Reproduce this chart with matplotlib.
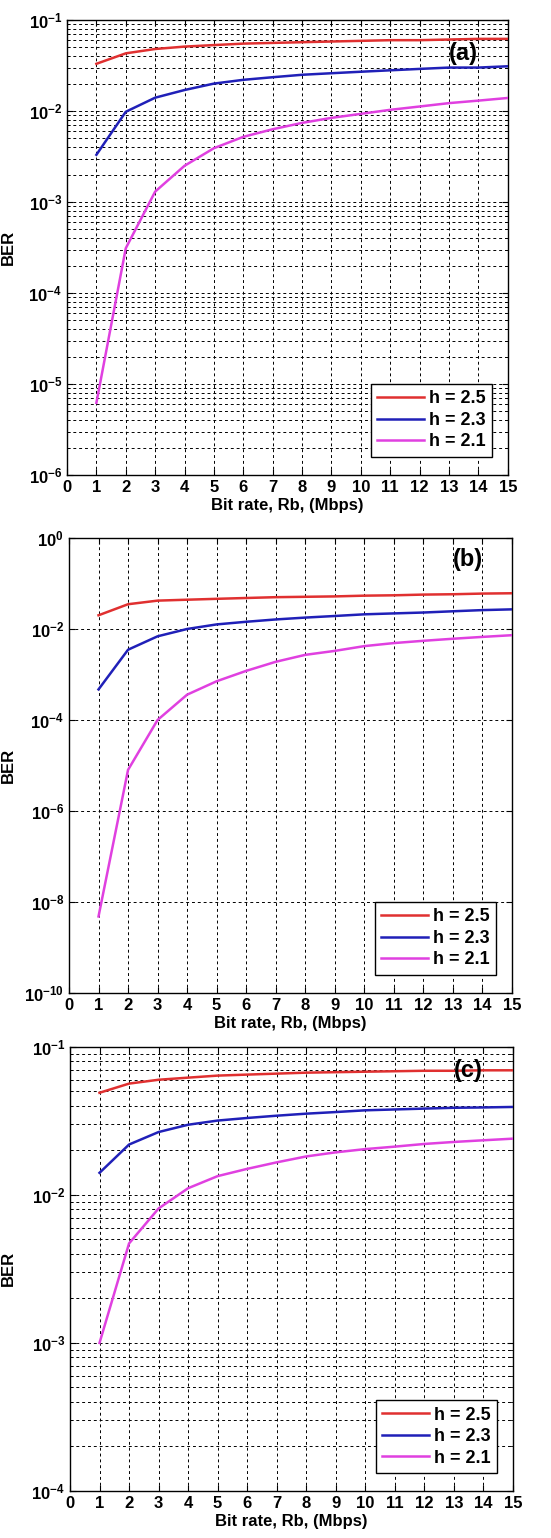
import matplotlib
matplotlib.use("Agg")
import matplotlib.pyplot as plt
from matplotlib.ticker import LogLocator, NullLocator, FixedLocator

plt.rcParams['font.family'] = ['Liberation Sans', 'DejaVu Sans']
plt.rcParams['font.weight'] = 'bold'
plt.rcParams['mathtext.fontset'] = 'custom'
plt.rcParams['mathtext.rm'] = 'Liberation Sans:bold'
plt.rcParams['mathtext.bf'] = 'Liberation Sans:bold'
plt.rcParams['mathtext.default'] = 'bf'

# data
rb = list(range(1, 16))
labels = ["h = 2.5", "h = 2.3", "h = 2.1"]
colors = ["#e03030", "#2020b8", "#e040e0"]

ber_a_25 = [0.033, 0.043, 0.048, 0.051, 0.053, 0.055, 0.056, 0.057, 0.058, 0.059, 0.060, 0.060, 0.061, 0.062, 0.062]
ber_a_23 = [0.0033, 0.0098, 0.014, 0.017, 0.020, 0.022, 0.0235, 0.025, 0.026, 0.027, 0.028, 0.029, 0.030, 0.030, 0.031]
ber_a_21 = [6.2e-6, 3.1e-4, 1.3e-3, 2.5e-3, 3.9e-3, 5.2e-3, 6.3e-3, 7.4e-3, 8.4e-3, 9.3e-3, 0.0103, 0.0112, 0.0122, 0.013, 0.0139]

ber_b_25 = [0.020, 0.035, 0.042, 0.044, 0.046, 0.048, 0.050, 0.051, 0.052, 0.054, 0.055, 0.057, 0.058, 0.060, 0.061]
ber_b_23 = [4.7e-4, 3.5e-3, 6.9e-3, 0.0100, 0.0126, 0.0144, 0.0162, 0.0178, 0.0193, 0.021, 0.022, 0.023, 0.0245, 0.026, 0.027]
ber_b_21 = [4.8e-9, 8e-6, 1e-4, 3.6e-4, 7.1e-4, 1.2e-3, 1.9e-3, 2.7e-3, 3.3e-3, 4.2e-3, 4.9e-3, 5.5e-3, 6.1e-3, 6.7e-3, 7.3e-3]

ber_c_25 = [0.049, 0.0565, 0.060, 0.062, 0.064, 0.065, 0.066, 0.067, 0.0675, 0.068, 0.0685, 0.069, 0.069, 0.0695, 0.0695]
ber_c_23 = [0.0141, 0.0219, 0.0266, 0.0298, 0.0318, 0.0331, 0.0343, 0.0354, 0.0363, 0.0373, 0.0378, 0.0383, 0.0388, 0.039, 0.0393]
ber_c_21 = [1e-3, 4.7e-3, 8.1e-3, 0.0111, 0.0134, 0.015, 0.0166, 0.0182, 0.0194, 0.0204, 0.0212, 0.0221, 0.0228, 0.0234, 0.024]

panels = [
    ("(a)", [ber_a_25, ber_a_23, ber_a_21], (1e-6, 1e-1), [0.1216, 0.6912, 0.800, 0.2958], 0.927, True),
    ("(b)", [ber_b_25, ber_b_23, ber_b_21], (1e-10, 1e0), [0.1252, 0.3544, 0.804, 0.2958], 0.953, False),
    ("(c)", [ber_c_25, ber_c_23, ber_c_21], (1e-4, 1e-1), [0.1270, 0.0306, 0.804, 0.2887], 0.948, True),
]

fig = plt.figure(figsize=(5.51, 15.38), dpi=100)

for tag, series, ylim, pos, ty, minor in panels:
    ax = fig.add_axes(pos)
    for vals, lab, c in zip(series, labels, colors):
        ax.semilogy(rb, vals, color=c, lw=1.8, label=lab, zorder=3)
    ax.set_xlim(0, 15)
    ax.set_ylim(*ylim)
    ax.set_xticks(range(0, 16))
    if minor:
        ax.yaxis.set_major_locator(LogLocator(base=10, numticks=20))
        ax.yaxis.set_minor_locator(LogLocator(base=10, subs=range(2, 10), numticks=50))
        ax.grid(True, which='both', axis='y', color='k', ls=(0, (3, 3)), lw=0.7)
    else:
        ax.yaxis.set_major_locator(FixedLocator([1e-10, 1e-8, 1e-6, 1e-4, 1e-2, 1e0]))
        ax.yaxis.set_minor_locator(NullLocator())
        ax.grid(True, which='major', axis='y', color='k', ls=(0, (3, 3)), lw=0.7)
    ax.grid(True, which='major', axis='x', color='k', ls=(0, (3, 3)), lw=0.7)
    ax.tick_params(direction='in', top=True, right=True, labelsize=12, length=4)
    ax.tick_params(which='minor', direction='in', top=True, right=True, length=2)
    ax.set_xlabel("Bit rate, Rb, (Mbps)", fontsize=12, fontweight='bold', labelpad=2)
    ax.set_ylabel("BER", fontsize=12, fontweight='bold')
    ax.yaxis.set_label_coords((16 / 551 - pos[0]) / pos[2], 0.5)
    ax.text(0.90, ty, tag, transform=ax.transAxes, fontsize=17, fontweight='bold',
            ha='center', va='center', zorder=4)
    leg = ax.legend(loc='lower right', fontsize=13, frameon=True, fancybox=False,
                    edgecolor='k', handlelength=2.6, handletextpad=0.3,
                    borderpad=0.35, labelspacing=0.25, framealpha=1,
                    bbox_to_anchor=(0.985, 0.02))
    leg.get_frame().set_linewidth(1.0)
    for sp in ax.spines.values():
        sp.set_linewidth(1.0)

fig.savefig("out.png", dpi=100)
